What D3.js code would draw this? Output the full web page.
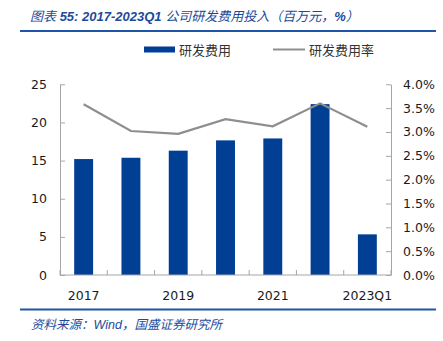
<!DOCTYPE html>
<html>
<head>
<meta charset="utf-8">
<script src="https://cdn.jsdelivr.net/npm/d3@7"></script>
<style>
  html, body { margin: 0; padding: 0; background: #fff; }
  svg { display: block; }
</style>
</head>
<body>
<script>
// R&D spending (million CNY) and R&D expense ratio (%), 2017–2023Q1
const categories = ["2017", "2018", "2019", "2020", "2021", "2022", "2023Q1"];
const rdExpense = [15.2, 15.37, 16.3, 17.65, 17.9, 22.4, 5.33];
const rdRatio = [3.58, 3.02, 2.96, 3.27, 3.12, 3.60, 3.11];
const leftTicks = [0, 5, 10, 15, 20, 25];
const rightTicks = [0, 0.5, 1.0, 1.5, 2.0, 2.5, 3.0, 3.5, 4.0];
const shownXLabels = ["2017", "2019", "2021", "2023Q1"];

const W = 443, H = 341;
const plot = { left: 60, right: 391, top: 84.3, bottom: 275 };
const BLUE = "#003f94", GREY = "#8e8e8e", AXIS = "#a6a6a6", HEAD = "#1d4b9b";
const tickFont = "'DejaVu Sans', Verdana, sans-serif";

const svg = d3.select("body").append("svg").attr("width", W).attr("height", H);

// Header: caption and rule
const title = svg.append("text")
  .attr("x", 30).attr("y", 20.5)
  .attr("fill", HEAD)
  .attr("font-size", 13)
  .attr("font-style", "italic")
  .attr("font-family", "'Liberation Sans', 'Noto Sans CJK SC', sans-serif");
title.append("tspan").attr("font-family", "'Noto Sans CJK SC'").text("图表");
title.append("tspan").attr("font-weight", "bold").text(" 55:  2017-2023Q1 ");
title.append("tspan").attr("font-family", "'Noto Sans CJK SC'").text("公司研发费用投入（百万元，");
title.append("tspan").attr("font-weight", "bold").text("%");
title.append("tspan").attr("font-family", "'Noto Sans CJK SC'").text("）");

svg.append("line").attr("x1", 20).attr("x2", 436).attr("y1", 31).attr("y2", 31)
  .attr("stroke", "#1f55a6").attr("stroke-width", 2);

// Scales
const x = d3.scaleBand().domain(categories).range([plot.left, plot.right])
  .paddingInner(0.6).paddingOuter(0.3);
const yL = d3.scaleLinear().domain([0, 25]).range([plot.bottom, plot.top]);
const yR = d3.scaleLinear().domain([0, 4]).range([plot.bottom, plot.top]);

// Legend
const lg = svg.append("g").attr("font-family", "'Noto Sans CJK SC', sans-serif")
  .attr("font-size", 13).attr("fill", "#333");
lg.append("rect").attr("x", 144).attr("y", 46.5).attr("width", 31).attr("height", 6).attr("fill", BLUE);
lg.append("text").attr("x", 179).attr("y", 54.5).text("研发费用");
lg.append("line").attr("x1", 273).attr("x2", 305).attr("y1", 49.5).attr("y2", 49.5)
  .attr("stroke", GREY).attr("stroke-width", 2);
lg.append("text").attr("x", 309).attr("y", 54.5).text("研发费用率");

// Bars
svg.append("g").selectAll("rect").data(categories).join("rect")
  .attr("x", d => x(d))
  .attr("y", (d, i) => yL(rdExpense[i]))
  .attr("width", x.bandwidth())
  .attr("height", (d, i) => yL(0) - yL(rdExpense[i]))
  .attr("fill", BLUE);

// Ratio line
const line = d3.line()
  .x((d, i) => x(categories[i]) + x.bandwidth() / 2)
  .y(d => yR(d));
svg.append("path").datum(rdRatio)
  .attr("d", line)
  .attr("fill", "none")
  .attr("stroke", GREY)
  .attr("stroke-width", 2.2)
  .attr("stroke-linejoin", "miter");

// Value axes with inward ticks
const left = svg.append("g").attr("transform", `translate(${plot.left},0)`)
  .call(d3.axisLeft(yL).tickValues(leftTicks).tickSizeInner(-5).tickSizeOuter(0).tickPadding(13));
const right = svg.append("g").attr("transform", `translate(${plot.right},0)`)
  .call(d3.axisRight(yR).tickValues(rightTicks).tickSizeInner(-5).tickSizeOuter(0).tickPadding(12)
    .tickFormat(d => d.toFixed(1) + "%"));

// Category axis: baseline with separators between bands
const bottom = svg.append("g").attr("transform", `translate(0,${plot.bottom})`);
bottom.append("line").attr("x1", plot.left).attr("x2", plot.right).attr("stroke", AXIS);
const step = x.step();
bottom.selectAll("line.sep").data(d3.range(categories.length + 1)).join("line")
  .attr("class", "sep")
  .attr("x1", i => plot.left + i * step).attr("x2", i => plot.left + i * step)
  .attr("y1", 0).attr("y2", -5)
  .attr("stroke", AXIS);
bottom.selectAll("text").data(categories.filter(c => shownXLabels.includes(c))).join("text")
  .attr("x", d => x(d) + x.bandwidth() / 2)
  .attr("y", 24.5)
  .attr("text-anchor", "middle")
  .text(d => d);

[left, right, bottom].forEach(g => {
  g.attr("font-family", tickFont).attr("font-size", 12.5);
  g.select(".domain").attr("stroke", AXIS);
  g.selectAll(".tick line").attr("stroke", AXIS);
  g.selectAll("text").attr("fill", "#1a1a1a");
});

// Footer: rule and source note
svg.append("line").attr("x1", 20).attr("x2", 436).attr("y1", 309.5).attr("y2", 309.5)
  .attr("stroke", "#1f55a6").attr("stroke-width", 2);
const src = svg.append("text").attr("x", 31).attr("y", 328.5)
  .attr("fill", HEAD).attr("font-size", 12.5).attr("font-style", "italic")
  .attr("font-family", "'Noto Sans CJK SC', sans-serif");
src.append("tspan").text("资料来源：");
src.append("tspan").attr("font-family", "'Liberation Sans', sans-serif").text("Wind");
src.append("tspan").text("，国盛证券研究所");
</script>
</body>
</html>
